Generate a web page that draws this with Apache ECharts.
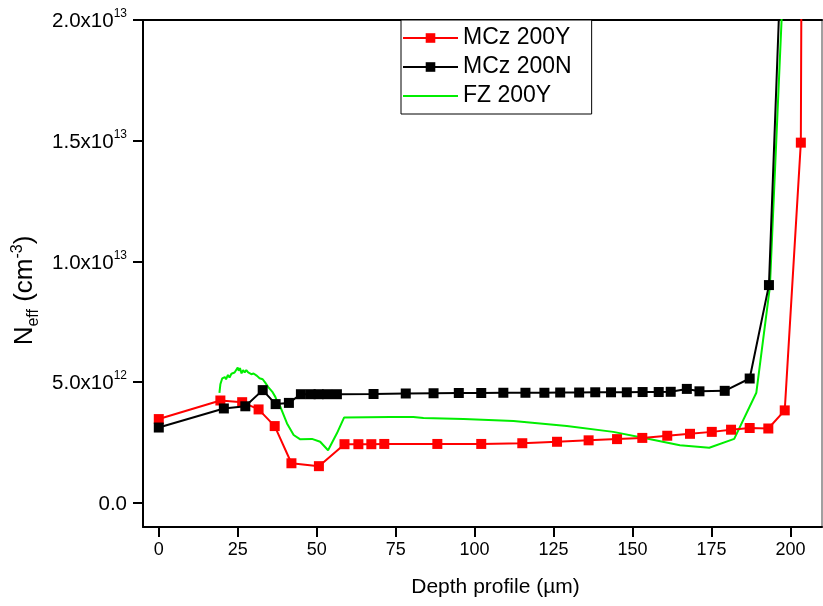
<!DOCTYPE html>
<html>
<head>
<meta charset="utf-8">
<script src="https://cdn.jsdelivr.net/npm/echarts@6/dist/echarts.min.js"></script>
<style>
html,body{margin:0;padding:0;background:#fff;}
#chart{width:823px;height:606px;}
</style>
</head>
<body>
<div id="chart"></div>
<script>
// Values: depth in µm, N_eff in units of 1e12 cm^-3
const seriesNames = ['MCz 200Y', 'MCz 200N', 'FZ 200Y'];

const mczYX = [0, 19.5, 26.4, 31.6, 36.7, 42.0, 50.7, 58.8, 63.2, 67.3, 71.4, 88.2, 102.1, 115.1, 126.1, 136.1, 145.1, 153.1, 161.0, 168.2, 175.1, 181.2, 187.1, 193.0, 198.2, 203.3, 203.5];
const mczYY = [3.47, 4.24, 4.17, 3.87, 3.18, 1.64, 1.52, 2.43, 2.43, 2.43, 2.44, 2.44, 2.44, 2.47, 2.53, 2.59, 2.64, 2.69, 2.78, 2.86, 2.94, 3.03, 3.10, 3.08, 3.83, 14.92, 22];

const mczNX = [0, 20.6, 27.4, 32.9, 37.0, 41.2, 45.0, 48.1, 50.6, 53.3, 56.4, 68.0, 78.2, 87.0, 95.0, 102.1, 109.1, 116.1, 122.1, 127.1, 133.1, 138.2, 143.2, 148.2, 153.2, 158.3, 162.1, 167.2, 171.2, 179.2, 187.1, 193.2, 196.6];
const mczNY = [3.12, 3.91, 4.00, 4.67, 4.09, 4.14, 4.50, 4.50, 4.50, 4.50, 4.50, 4.51, 4.53, 4.54, 4.55, 4.55, 4.56, 4.56, 4.56, 4.57, 4.57, 4.58, 4.58, 4.58, 4.59, 4.59, 4.60, 4.72, 4.62, 4.64, 5.15, 9.02, 21];

const fzX = [19.2, 19.5, 20.1, 20.9, 21.3, 21.9, 22.4, 23.0, 23.5, 24.0, 24.5, 25.0, 25.3, 25.7, 26.2, 26.7, 27.2, 27.7, 28.3, 28.8, 29.3, 30.0, 31.1, 31.9, 32.9, 33.7, 34.8, 35.9, 36.9, 37.4, 38.5, 40.6, 42.7, 44.8, 48.5, 51.1, 53.6, 56.4, 58.7, 73.3, 80.6, 83.8, 96.5, 112.3, 129.2, 143.9, 154.5, 165.0, 174.3, 182.2, 189.2, 193.5, 197.2, 197.5];
const fzY = [4.56, 4.91, 5.16, 5.21, 5.12, 5.30, 5.19, 5.35, 5.30, 5.40, 5.44, 5.61, 5.47, 5.58, 5.36, 5.50, 5.40, 5.50, 5.40, 5.47, 5.33, 5.36, 5.26, 5.16, 5.12, 4.98, 4.77, 4.61, 4.39, 4.22, 3.98, 3.29, 2.81, 2.63, 2.65, 2.53, 2.18, 2.88, 3.54, 3.56, 3.56, 3.51, 3.47, 3.39, 3.18, 2.94, 2.67, 2.39, 2.28, 2.65, 4.56, 8.95, 20.0, 21];

const xTickValues = [0, 25, 50, 75, 100, 125, 150, 175, 200];
const yTickValues = [0, 5, 10, 15, 20];
const yTickMantissa = ['0.0', '5.0x10', '1.0x10', '1.5x10', '2.0x10'];
const yTickExponent = ['', '12', '13', '13', '13'];

const xTitle = 'Depth profile (\u00b5m)';

function pairs(xs, ys) { return xs.map((x, i) => [x, ys[i]]); }

const FONT = '"Liberation Sans", Arial, Helvetica, sans-serif';
const RED = '#ff0000', BLACK = '#000000', GREEN = '#00ee00';
const chart = echarts.init(document.getElementById('chart'));

chart.setOption({
  animation: false,
  backgroundColor: '#fff',
  textStyle: { fontFamily: FONT, color: '#000' },
  grid: { left: 143, right: 1, top: 20, bottom: 79, containLabel: false },
  legend: {
    orient: 'vertical',
    left: 401, top: 20,
    padding: [6.5, 20, 6.5, 1],
    itemWidth: 55, itemHeight: 12, itemGap: 6,
    backgroundColor: '#fff',
    borderColor: '#000', borderWidth: 1,
    lineStyle: { width: 2 },
    textStyle: { fontFamily: FONT, fontSize: 23, lineHeight: 23, color: '#000' },
    data: [
      { name: seriesNames[0] },
      { name: seriesNames[1] },
      { name: seriesNames[2], itemStyle: { opacity: 0, borderWidth: 0 } }
    ]
  },
  xAxis: [{
    type: 'value', min: -5, max: 210,
    axisLine: { show: true, onZero: false, lineStyle: { color: '#000', width: 2 } },
    axisTick: { show: true, inside: false, length: 10, lineStyle: { color: '#000', width: 2 }, customValues: xTickValues },
    axisLabel: { show: true, margin: 14, fontSize: 18, color: '#000', fontFamily: FONT, customValues: xTickValues },
    splitLine: { show: false },
    name: xTitle, nameLocation: 'middle', nameGap: 50,
    nameTextStyle: { fontSize: 21, color: '#000', fontFamily: FONT, padding: [0, 0, 0, 26] }
  }, {
    type: 'value', position: 'top', min: -5, max: 210,
    axisLine: { show: true, onZero: false, lineStyle: { color: '#000', width: 2 } },
    axisTick: { show: false }, axisLabel: { show: false }, splitLine: { show: false }
  }],
  yAxis: [{
    type: 'value', min: -1, max: 20,
    axisLine: { show: true, onZero: false, lineStyle: { color: '#000', width: 2 } },
    axisTick: { show: true, inside: false, length: 10, lineStyle: { color: '#000', width: 2 }, customValues: yTickValues },
    axisLabel: {
      show: true, margin: 16, customValues: yTickValues,
      formatter: function (v) {
        const i = yTickValues.indexOf(v);
        if (i < 0) return '';
        return yTickExponent[i] ? '{m|' + yTickMantissa[i] + '}{e|' + yTickExponent[i] + '}' : '{m|' + yTickMantissa[i] + '}';
      },
      rich: {
        m: { fontSize: 20.5, fontFamily: FONT, color: '#000', lineHeight: 24, verticalAlign: 'bottom' },
        e: { fontSize: 12, fontFamily: FONT, color: '#000', lineHeight: 12, verticalAlign: 'top' }
      }
    },
    splitLine: { show: false },
    name: '{n|N}{s|eff}{n| (cm}{p|-3}{n|)}',
    nameLocation: 'middle', nameRotate: 90, nameGap: 97,
    nameTextStyle: {
      padding: [0, 34, 0, 0],
      rich: {
        n: { fontSize: 26, fontFamily: FONT, color: '#000', lineHeight: 32, verticalAlign: 'middle' },
        s: { fontSize: 16, fontFamily: FONT, color: '#000', lineHeight: 16, verticalAlign: 'bottom' },
        p: { fontSize: 16, fontFamily: FONT, color: '#000', lineHeight: 16, verticalAlign: 'top' }
      }
    }
  }, {
    type: 'value', position: 'right', min: -1, max: 20,
    axisLine: { show: true, onZero: false, lineStyle: { color: '#808080', width: 1.5 } },
    axisTick: { show: false }, axisLabel: { show: false }, splitLine: { show: false }
  }],
  series: [{
    name: seriesNames[0], type: 'line', data: pairs(mczYX, mczYY),
    symbol: 'rect', symbolSize: 10, showAllSymbol: true, clip: true, z: 3,
    lineStyle: { color: RED, width: 2 }, itemStyle: { color: RED }
  }, {
    name: seriesNames[1], type: 'line', data: pairs(mczNX, mczNY),
    symbol: 'rect', symbolSize: 10, showAllSymbol: true, clip: true, z: 4,
    lineStyle: { color: BLACK, width: 2 }, itemStyle: { color: BLACK }
  }, {
    name: seriesNames[2], type: 'line', data: pairs(fzX, fzY),
    symbol: 'none', clip: true, z: 2,
    lineStyle: { color: GREEN, width: 2 }, itemStyle: { color: GREEN }
  }]
});
</script>
</body>
</html>
